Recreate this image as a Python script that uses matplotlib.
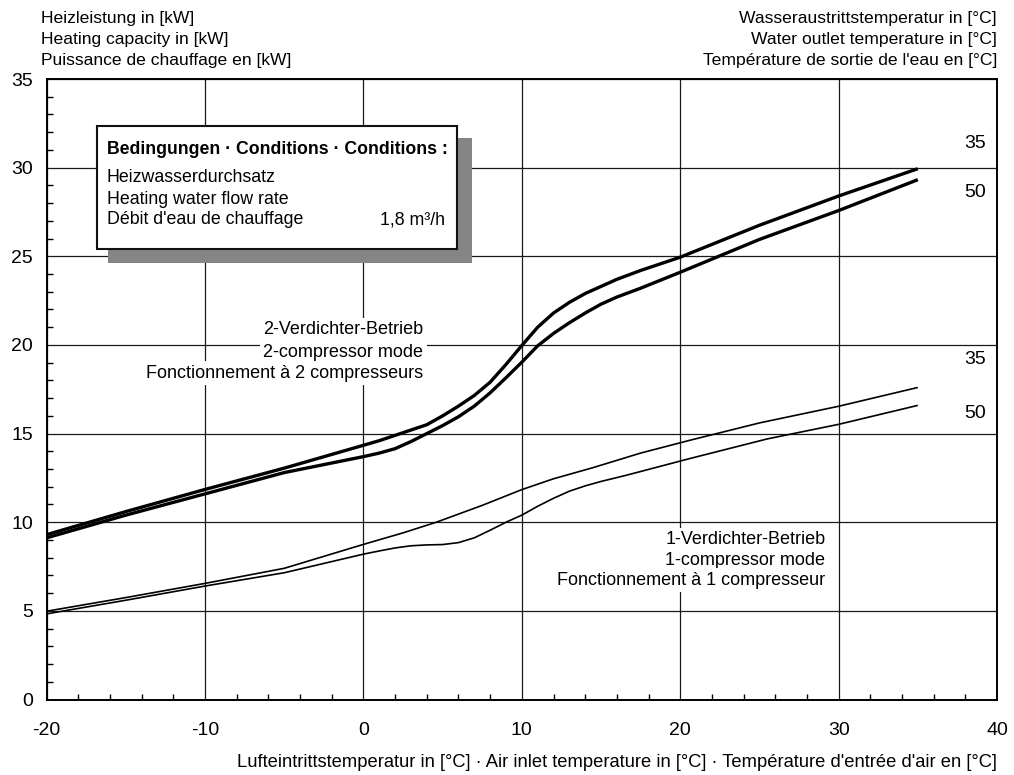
import matplotlib
matplotlib.use("Agg")
import matplotlib.pyplot as plt
from matplotlib.patches import Rectangle
from matplotlib.ticker import MultipleLocator

plt.rcParams['font.family'] = ['Liberation Sans', 'DejaVu Sans']
plt.rcParams['axes.unicode_minus'] = False

# ---- data ----
x_2c_35 = [-20, -15, -10, -5, 0, 1, 2, 3, 4, 5, 6, 7, 8, 9, 10, 11, 12, 13, 14, 15, 16,
           17.5, 20, 25, 30, 35]
y_2c_35 = [9.3, 10.6, 11.85, 13.05, 14.34, 14.6, 14.9, 15.2, 15.5, 16.0, 16.55, 17.15, 17.9,
           18.9, 19.97, 21.0, 21.8, 22.4, 22.9, 23.3, 23.7, 24.2, 24.95, 26.75, 28.4, 29.94]

x_2c_50 = [-20, -15, -10, -5, 0, 1, 2, 3, 4, 5, 6, 7, 8, 9, 10, 11, 12, 13, 14, 15, 16,
           17.5, 20, 25, 30, 35]
y_2c_50 = [9.12, 10.4, 11.6, 12.8, 13.7, 13.9, 14.15, 14.55, 15.0, 15.45, 15.95, 16.55, 17.3,
           18.15, 19.03, 19.95, 20.65, 21.25, 21.8, 22.3, 22.7, 23.2, 24.1, 25.95, 27.58, 29.32]

x_1c_35 = [-20, -15, -10, -5, 0, 2.5, 4.6, 7.5, 10, 12, 14.5, 17.5, 20.6, 25, 30, 35]
y_1c_35 = [4.98, 5.75, 6.55, 7.4, 8.75, 9.4, 10.0, 10.95, 11.84, 12.45, 13.08, 13.9, 14.62,
           15.6, 16.54, 17.6]

x_1c_50 = [-20, -15, -10, -5, 0, 1, 2, 3, 4, 5, 6, 7, 8, 9, 10, 11, 12, 13, 14, 15, 16.6,
           20.6, 25.5, 30, 35]
y_1c_50 = [4.83, 5.6, 6.4, 7.15, 8.2, 8.38, 8.55, 8.67, 8.72, 8.74, 8.85, 9.12, 9.55, 10.0,
           10.4, 10.9, 11.35, 11.75, 12.05, 12.3, 12.65, 13.59, 14.7, 15.52, 16.59]

x_ticks = [-20, -10, 0, 10, 20, 30, 40]
y_ticks = [0, 5, 10, 15, 20, 25, 30, 35]

W, H = 1014, 775
fig = plt.figure(figsize=(W / 100, H / 100), dpi=100)

def fx(px):
    return px / W

def fy(py):
    return 1 - py / H

ax = fig.add_axes([fx(46.7), fy(699.5), fx(997) - fx(46.7), fy(79) - fy(699.5)])
ax.set_xlim(-20, 40)
ax.set_ylim(0, 35)
ax.set_xticks(x_ticks)
ax.set_yticks(y_ticks)
ax.xaxis.set_minor_locator(MultipleLocator(2))
ax.yaxis.set_minor_locator(MultipleLocator(1))
ax.tick_params(which='major', length=0, labelsize=14, colors='black')
ax.tick_params(axis='x', which='major', pad=16)
ax.tick_params(axis='y', which='major', pad=10)
ax.tick_params(which='minor', direction='in', length=4, width=1, color='black')
ax.set_axisbelow(True)
ax.grid(True, which='major', color='#1a1a1a', linewidth=0.9)
for s in ax.spines.values():
    s.set_linewidth(1.4)
    s.set_color('black')

thick = dict(color='black', linewidth=2.4, solid_joinstyle='round', solid_capstyle='butt', zorder=3)
thin = dict(color='black', linewidth=1.2, solid_joinstyle='round', solid_capstyle='butt', zorder=3)
ax.plot(x_2c_35, y_2c_35, **thick)
ax.plot(x_2c_50, y_2c_50, **thick)
ax.plot(x_1c_35, y_1c_35, **thin)
ax.plot(x_1c_50, y_1c_50, **thin)

fs = 13
wb = dict(facecolor='white', edgecolor='none', pad=2.5)

# mode labels with white background
for txt, yy in [("2-Verdichter-Betrieb", 20.85), ("2-compressor mode", 19.6),
                ("Fonctionnement à 2 compresseurs", 18.4)]:
    ax.text(3.77, yy, txt, ha='right', va='center', fontsize=fs, bbox=wb, zorder=4)
for txt, yy in [("1-Verdichter-Betrieb", 9.0), ("1-compressor mode", 7.86),
                ("Fonctionnement à 1 compresseur", 6.72)]:
    ax.text(29.17, yy, txt, ha='right', va='center', fontsize=fs, bbox=wb, zorder=4)

# water outlet temperature labels
for txt, yy in [("35", 31.35), ("50", 28.6), ("35", 19.18), ("50", 16.15)]:
    ax.text(38.6, yy, txt, ha='center', va='center', fontsize=14, zorder=4)

# axis titles
for i, t in enumerate(["Heizleistung in [kW]", "Heating capacity in [kW]",
                       "Puissance de chauffage en [kW]"]):
    fig.text(fx(41), fy(23.3 + 20.8 * i), t, ha='left', va='baseline', fontsize=12.6)
for i, t in enumerate(["Wasseraustrittstemperatur in [°C]", "Water outlet temperature in [°C]",
                       "Température de sortie de l'eau en [°C]"]):
    fig.text(fx(997), fy(23.3 + 20.8 * i), t, ha='right', va='baseline', fontsize=12.6)
fig.text(fx(997), fy(767),
         "Lufteintrittstemperatur in [°C] · Air inlet temperature in [°C] · Température d'entrée d'air en [°C]",
         ha='right', va='baseline', fontsize=13.2)

# conditions box with shadow
fig.add_artist(Rectangle((fx(108), fy(263)), fx(472) - fx(108), fy(138) - fy(263),
                         transform=fig.transFigure, facecolor='#858585', edgecolor='none', zorder=5))
fig.add_artist(Rectangle((fx(97), fy(249)), fx(457) - fx(97), fy(126) - fy(249),
                         transform=fig.transFigure, facecolor='white', edgecolor='#111111',
                         linewidth=1.5, zorder=6))
fig.text(fx(107), fy(150), "Bedingungen · Conditions · Conditions :", ha='left', va='center',
         fontsize=12.7, fontweight='bold', zorder=7)
for i, t in enumerate(["Heizwasserdurchsatz", "Heating water flow rate", "Débit d'eau de chauffage"]):
    fig.text(fx(107), fy(178 + 21 * i), t, ha='left', va='center', fontsize=12.8, zorder=7)
fig.text(fx(445), fy(220), "1,8 m³/h", ha='right', va='center', fontsize=12.8, zorder=7)

fig.savefig("out.png", dpi=100)
